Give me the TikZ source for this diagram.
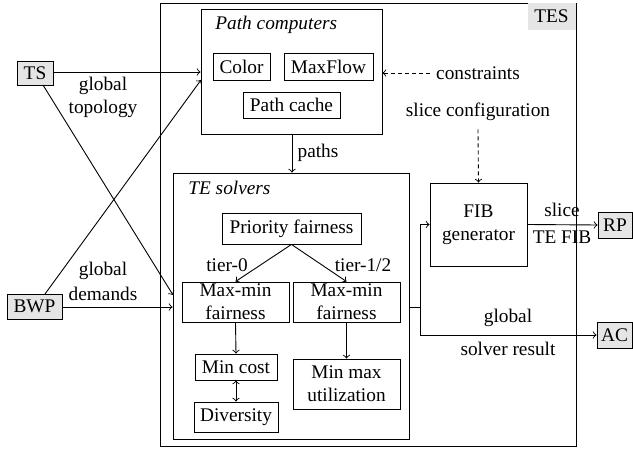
\documentclass[tikz,border=0pt]{standalone}
\usepackage{fontspec}
\setmainfont{Liberation Serif}
\begin{document}
\begin{tikzpicture}[x=0.5pt,y=-0.5pt,
  every node/.style={font=\fontsize{9.65pt}{11.5pt}\selectfont, inner sep=0pt},
  box/.style={draw, line width=0.45pt, align=center},
  ext/.style={box, fill=gray!20},
  conn/.style={line width=0.45pt, ->},
  dconn/.style={conn, dash pattern=on 2pt off 1.5pt},
  ln/.style={line width=0.45pt}]
\useasboundingbox (0,0) rectangle (633,449);
% outer TES
\node[box, minimum width=208pt, minimum height=221.5pt] (tes) at (368,224.5) {};
\node[fill=gray!20, minimum width=24pt, minimum height=13.5pt] (teslabel) at (551.5,16.5) {TES};
% path computers
\node[box, minimum width=90.5pt, minimum height=62.5pt] (pc) at (291.5,71.5) {};
\node[anchor=west] (pctitle) at (215,25) {\itshape Path computers};
\node[box, minimum width=28.5pt, minimum height=13.5pt] (color) at (241.5,66.5) {Color};
\node[box, minimum width=44.5pt, minimum height=13.5pt] (maxflow) at (328.5,66.5) {MaxFlow};
\node[box, minimum width=48.5pt, minimum height=13pt] (cache) at (291.5,105) {Path cache};
% external
\node[ext, minimum width=18pt, minimum height=12pt] (ts) at (35,73) {TS};
\node[ext, minimum width=27.5pt, minimum height=12.5pt] (bwp) at (34.5,306.5) {BWP};
\node[ext, minimum width=17pt, minimum height=13pt] (rp) at (615,225) {RP};
\node[ext, minimum width=17.5pt, minimum height=13pt] (ac) at (614.5,335) {AC};
% TE solvers
\node[box, minimum width=118pt, minimum height=133pt] (tesolv) at (291,306) {};
\node[anchor=west] (tetitle) at (188,188) {\itshape TE solvers};
\node[box, minimum width=69.5pt, minimum height=15.5pt] (prio) at (291.5,228.5) {Priority fairness};
\node[box, minimum width=53.5pt, minimum height=20pt] (mm1) at (235.5,302) {Max-min\\fairness};
\node[box, minimum width=53.5pt, minimum height=20pt] (mm2) at (346.5,302) {Max-min\\fairness};
\node[box, minimum width=41pt, minimum height=13pt] (mincost) at (236,367) {Min cost};
\node[box, minimum width=42pt, minimum height=15pt] (div) at (236,417) {Diversity};
\node[box, minimum width=53.5pt, minimum height=25pt] (minmax) at (346.5,384) {Min max\\utilization};
\node (tier0) at (227,265) {tier-0};
\node (tier12) at (363,265) {tier-1/2};
% FIB
\node[box, minimum width=48.5pt, minimum height=41.5pt] (fib) at (478.5,224.5) {FIB\\generator};
% labels
\node[align=center] (ltopo) at (103,97) {global\\topology};
\node[align=center, font=\fontsize{9.65pt}{12.5pt}\selectfont] (ldem) at (103,281.5) {global\\demands};
\node (lconst) at (478,73) {constraints};
\node (lslice) at (478,112) {slice configuration};
\node (lpaths) at (318,153) {paths};
\node (lsl) at (562,210) {slice};
\node (lfib) at (562,237) {TE FIB};
\node (lglob) at (508,318) {global};
\node (lsolv) at (508,349) {solver result};
% coordinates
\coordinate (tsb) at (43,85);
\coordinate (tsin) at (173,295);
\coordinate (bwpt) at (45,294);
\coordinate (pcin) at (201,80);
\coordinate (split) at (420,307);
% connectors
\draw[conn] (ts.east |- 0,72) -- (pc.west |- 0,72);
\draw[conn] (tsb) -- (tsin);
\draw[conn] (bwpt) -- (pcin);
\draw[conn] (bwp.east |- 0,307) -- (tesolv.west |- 0,307);
\draw[conn] (pc.south -| 292,0) -- (tesolv.north -| 292,0);
\draw[conn] (prio.south) -- (mm1.north);
\draw[conn] (prio.south) -- (mm2.north);
\draw[conn] (mm1.south) -- (mincost.north);
\draw[conn, <->] (mincost.south) -- (div.north);
\draw[conn] (mm2.south) -- (minmax.north);
\draw[ln] (tesolv.east |- split) -- (split);
\draw[conn] (split) |- (fib.west);
\draw[conn] (split) |- (ac.west);
\draw[conn] (fib.east) -- (rp.west);
\draw[dconn, shorten <=3pt] (lconst.west) -- (pc.east |- lconst.west);
\draw[dconn] (lslice.south) ++(0,8) -- (fib.north);
\end{tikzpicture}
\end{document}
